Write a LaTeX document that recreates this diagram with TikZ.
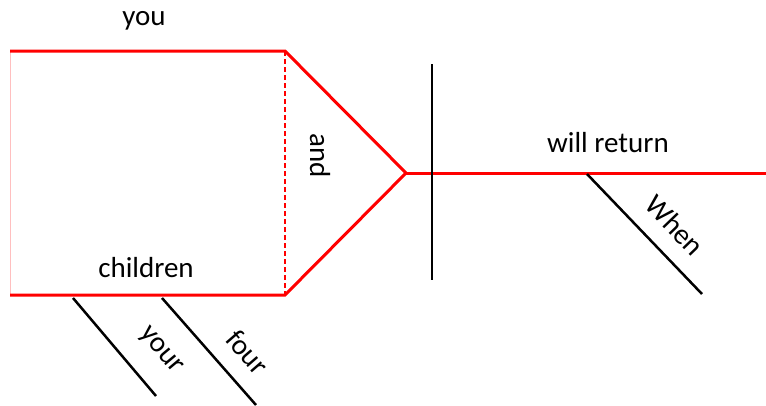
\documentclass[tikz,border=0pt]{standalone}
\usepackage{fontspec}
\setmainfont{Carlito}
\usepackage{xcolor}
\usepackage{tikz}

\tikzset{
  base/.style={color=red, line width=3pt},
  modline/.style={color=black, line width=2.5pt},
  word/.style={font=\fontsize{29}{34}\selectfont, inner sep=0pt}
}

\begin{document}
\begin{tikzpicture}[x=1pt,y=-1pt]
\useasboundingbox (0,0) rectangle (766,405);

\coordinate (youL) at (10,51);
\coordinate (youR) at (285,51);
\coordinate (chL) at (10,295);
\coordinate (chR) at (285,295);
\coordinate (fork) at (406,173);
\coordinate (lineEnd) at (766,173);
\coordinate (divTop) at (432,64);
\coordinate (divBot) at (432,280);
\coordinate (whenTop) at (587,174);
\coordinate (whenBot) at (702,294);
\coordinate (yourTop) at (73,298);
\coordinate (yourBot) at (156,396);
\coordinate (fourTop) at (162,298);
\coordinate (fourBot) at (256,405);

% compound subject
\draw[color=red!25, line width=1pt] (youL)--(chL);
\draw[base] (youL)--(youR)--(fork);
\draw[base] (chL)--(chR)--(fork);
\draw[base, line width=2pt, dash pattern=on 5pt off 3pt] (youR)--(chR);

% predicate
\draw[base] (fork)--(lineEnd);
\draw[modline] (divTop)--(divBot);
\draw[modline] (whenTop)--(whenBot);

% modifiers of children
\draw[modline] (yourTop)--(yourBot);
\draw[modline] (fourTop)--(fourBot);

\node[word] (you) at (144,21) {you};
\node[word] (children) at (146,268) {children};
\node[word, rotate=-90] (and) at (320,156) {and};
\node[word] (willreturn) at (608,143) {will return};
\node[word, rotate=-46] (when) at (675,225) {When};
\node[word, rotate=-50] (your) at (160,351) {your};
\node[word, rotate=-49] (four) at (248,352) {four};

\end{tikzpicture}
\end{document}
